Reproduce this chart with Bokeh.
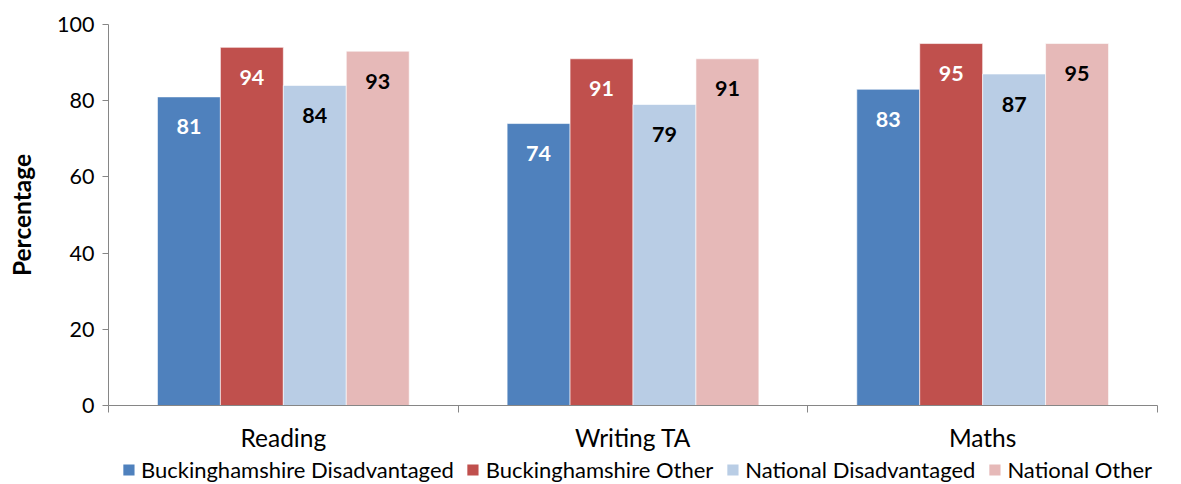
from bokeh.plotting import figure
from bokeh.layouts import column
from bokeh.models import FixedTicker, Legend, LegendItem, ColumnDataSource, LabelSet
from bokeh.transform import dodge
from bokeh.core.properties import value
from bokeh.embed import file_html
from bokeh.resources import INLINE

categories = ["Reading", "Writing TA", "Maths"]
series_names = ["Buckinghamshire Disadvantaged", "Buckinghamshire Other",
                "National Disadvantaged", "National Other"]
bucks_disadv = [81, 74, 83]
bucks_other = [94, 91, 95]
nat_disadv = [84, 79, 87]
nat_other = [93, 91, 95]
y_ticks = [0, 20, 40, 60, 80, 100]

series_values = [bucks_disadv, bucks_other, nat_disadv, nat_other]
colors = ["#4F81BD", "#C0504D", "#B9CDE5", "#E6B9B8"]
label_colors = ["white", "white", "black", "black"]
offsets = [-0.27, -0.09, 0.09, 0.27]
FONT = "Lato"
FS_NUM = "21.5px"
FS_TXT = "24.5px"
FS_LEG = "22px"

p = figure(frame_width=1049, frame_height=381, x_range=(0, 3), y_range=(0, 100),
           output_backend="svg", toolbar_location=None,
           min_border_left=108, min_border_right=16, min_border_top=24,
           min_border_bottom=0)
p.outline_line_color = None
p.xgrid.grid_line_color = None
p.ygrid.grid_line_color = None

centers = [i + 0.5 for i in range(len(categories))]
for vals, col, lc, off in zip(series_values, colors, label_colors, offsets):
    src = ColumnDataSource(dict(x=centers, top=vals, lab=[str(v) for v in vals]))
    p.vbar(x=dodge("x", off), top="top", width=0.18, bottom=0, source=src,
           fill_color=col, line_color="white", line_width=0.6)
    p.add_layout(LabelSet(x=dodge("x", off), y="top", text="lab", source=src,
                          y_offset=-30, text_align="center", text_baseline="middle",
                          text_color=lc, text_font=value(FONT), text_font_size=FS_NUM,
                          text_font_style="bold"))

xa = p.xaxis[0]
xa.ticker = FixedTicker(ticks=centers, minor_ticks=[0, 1, 2, 3])
xa.major_label_overrides = {c: n for c, n in zip(centers, categories)}
xa.major_tick_out = 0
xa.major_tick_in = 0
xa.minor_tick_out = 7
xa.minor_tick_in = 0
xa.minor_tick_line_color = "#868686"
xa.axis_line_color = "#868686"
xa.major_label_text_font = FONT
xa.major_label_text_font_size = FS_TXT
xa.major_label_text_color = "black"
xa.major_label_standoff = 10

ya = p.yaxis[0]
ya.ticker = FixedTicker(ticks=y_ticks)
ya.minor_tick_line_color = None
ya.major_tick_out = 6
ya.major_tick_in = 0
ya.major_tick_line_color = "#868686"
ya.axis_line_color = "#868686"
ya.major_label_text_font = FONT
ya.major_label_text_font_size = FS_NUM
ya.major_label_text_color = "black"
ya.major_label_standoff = 8
ya.axis_label = "Percentage"
ya.axis_label_text_font = FONT
ya.axis_label_text_font_size = "24.5px"
ya.axis_label_text_font_style = "bold"
ya.axis_label_text_color = "black"
ya.axis_label_standoff = 18

# legend-only figure underneath (its renderers are hidden; only the legend shows)
lf = figure(width=1181, height=30, x_range=(0, 1), y_range=(0, 1),
            output_backend="svg", toolbar_location=None,
            x_axis_type=None, y_axis_type=None,
            min_border_left=0, min_border_right=0, min_border_top=0, min_border_bottom=0)
lf.outline_line_color = None
lf.xgrid.grid_line_color = None
lf.ygrid.grid_line_color = None
items = []
for name, vals, col in zip(series_names, series_values, colors):
    r = lf.vbar(x=centers, bottom=vals, top=vals, width=0.1,
                fill_color=col, line_color=None)
    r.visible = False
    items.append(LegendItem(label=name, renderers=[r]))
legend = Legend(items=items, orientation="horizontal", location="center",
                label_text_font=FONT, label_text_font_size=FS_LEG,
                label_text_color="black",
                glyph_width=14, glyph_height=14, spacing=12, padding=0,
                margin=0, border_line_color=None, label_standoff=6,
                background_fill_alpha=0, inactive_fill_alpha=0)
lf.add_layout(legend)

layout = column(p, lf, spacing=0)
open("out.html", "w").write(file_html(layout, INLINE))
